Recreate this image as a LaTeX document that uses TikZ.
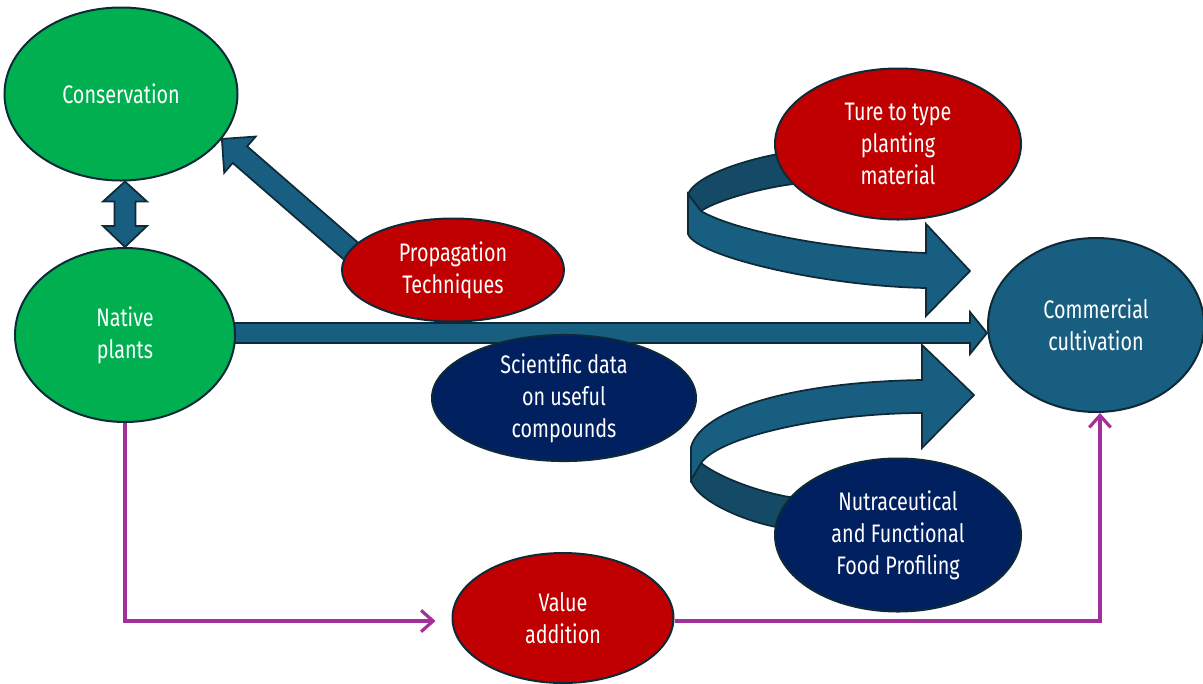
\documentclass[tikz,border=0pt]{standalone}
\usepackage{fontspec}
\setmainfont{Fira Sans}[FakeStretch=0.78]
\usepackage{tikz}
\usetikzlibrary{shapes.geometric, arrows.meta, calc, positioning}

\definecolor{leafgreen}{HTML}{00B050}
\definecolor{brickred}{HTML}{C00000}
\definecolor{deepnavy}{HTML}{002060}
\definecolor{steelblue}{HTML}{185E80}
\definecolor{shadeblue}{HTML}{154A66}
\definecolor{rimcolor}{HTML}{0E2A38}
\definecolor{plumline}{HTML}{A3309A}

\pgfdeclarelayer{bg}
\pgfsetlayers{bg,main}

% tail, tip, shaft half width, head half width, head length
\newcommand{\blockarrow}[5]{%
  \coordinate (hb) at ($(#2)!#5!(#1)$);
  \filldraw[ribbon] ($(#1)!#3!90:(#2)$) -- ($(hb)!#3!90:(#2)$) -- ($(hb)!#4!90:(#2)$)
    -- (#2) -- ($(hb)!#4!-90:(#2)$) -- ($(hb)!#3!-90:(#2)$) -- ($(#1)!#3!-90:(#2)$) -- cycle;}

\begin{document}
\begin{tikzpicture}[x=0.75pt, y=-0.75pt,
    bubble/.style={ellipse, draw=rimcolor, line width=1.5pt, text=white, align=center,
      inner sep=0pt, font=\fontsize{19}{24}\selectfont},
    ribbon/.style={fill=steelblue, draw=rimcolor, line width=1.3pt, line join=miter},
    backribbon/.style={ribbon, fill=shadeblue},
    valueline/.style={draw=plumline, line width=2.4pt,
      -{Straight Barb[length=9pt, width=16pt]}}]
    \useasboundingbox (0,0) rectangle (1203,683);

    % Left side
    \node[bubble, fill=leafgreen, minimum width=174.75pt, minimum height=129.75pt] (cons) at (121,94) {Conservation};
    \node[bubble, fill=leafgreen, minimum width=165pt, minimum height=130.5pt] (native) at (125,335) {Native\\plants};
    \node[bubble, fill=brickred, minimum width=166.5pt, minimum height=77.25pt] (prop) at (453,270) {Propagation\\Techniques};
    \node[bubble, fill=deepnavy, minimum width=198pt, minimum height=75pt] (sci) at (564,398) {Scientific data\\on useful\\compounds};

    % Right side
    \node[bubble, fill=brickred, minimum width=184.5pt, minimum height=113.25pt] (ture) at (898,144) {Ture to type\\planting\\material};
    \node[bubble, fill=deepnavy, minimum width=184.5pt, minimum height=114.75pt] (nutra) at (898,535) {Nutraceutical\\and Functional\\Food Profiling};
    \node[bubble, fill=steelblue, minimum width=162pt, minimum height=130.5pt] (comm) at (1096,325) {Commercial\\cultivation};
    \node[bubble, fill=brickred, minimum width=165.75pt, minimum height=97.5pt] (val) at (563,618) {Value\\addition};

    % Block arrows behind the ellipses
    \begin{pgfonlayer}{bg}
        \coordinate (dtop) at (cons.south -| native.north);
        \filldraw[ribbon] (dtop) -- ++(22,20) -- ++(-11.5,0) -- ($(native.north)+(10.5,-21)$)
            -- ++(11.5,0) -- (native.north) -- ++(-22,-21) -- ++(11.5,0)
            -- ($(dtop)+(-10.5,20)$) -- ++(-11.5,0) -- cycle;

        \coordinate (proptail) at ($(cons.-24)!1.1!(prop.169)$);
        \blockarrow{proptail}{cons.-24}{8.25pt}{18pt}{18pt}

        \coordinate (htail) at ($(native.center)+(0,-2)$);
        \coordinate (htip) at (comm.west |- htail);
        \blockarrow{htail}{htip}{7.5pt}{15.75pt}{12.75pt}

        % curl from the planting material
        \begin{scope}[shift={(ture.center)}]
            \filldraw[backribbon] (-90,10) -- (-120,10) .. controls (-157,17) and (-202,32) .. (-210,50)
                -- (-197,67) .. controls (-182,57) and (-142,45) .. (-105,40) -- (-80,40) -- cycle;
            \filldraw[ribbon] (-210,50) -- (-197,67) .. controls (-167,85) and (-77,105) .. (28,109)
                -- (28,80) -- (72,127) -- (28,172) -- (28,144)
                .. controls (-77,142) and (-202,112) .. (-210,90) -- cycle;
        \end{scope}

        % curl from the food profiling
        \begin{scope}[shift={(nutra.center)}]
            \filldraw[backribbon] (-197,-72) .. controls (-182,-60) and (-147,-45) .. (-109,-38)
                -- (-77,-40) -- (-87,-8) -- (-122,-8) .. controls (-157,-15) and (-202,-35) .. (-207,-55) -- cycle;
            \filldraw[ribbon] (-207,-88) .. controls (-197,-125) and (-107,-153) .. (24,-155)
                -- (24,-190) -- (76,-140) -- (24,-87) -- (24,-122)
                .. controls (-67,-122) and (-177,-100) .. (-197,-72) -- (-207,-55) -- cycle;
        \end{scope}
    \end{pgfonlayer}

    % Value addition route
    \draw[valueline] (native.south) |- ($(val.west)+(-16,3)$);
    \draw[valueline] ($(val.east)+(0,3)$) -| ($(comm.south)+(4,0)$);
\end{tikzpicture}
\end{document}
